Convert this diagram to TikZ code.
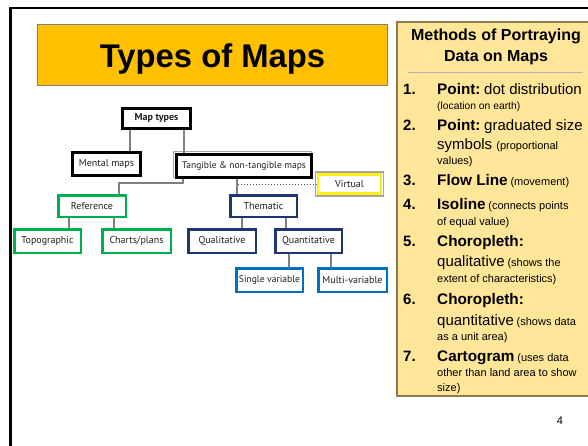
\documentclass[tikz,border=0pt]{standalone}
\usepackage{fontspec}
\setmainfont{Liberation Sans}
\newfontfamily\diagfont{PT Sans}
\usetikzlibrary{backgrounds}
\definecolor{titlegold}{HTML}{FFC000}
\definecolor{panelfill}{HTML}{FFE699}
\definecolor{panelline}{HTML}{8C7A4A}
\definecolor{refgreen}{HTML}{00B050}
\definecolor{themnavy}{HTML}{1F3472}
\definecolor{quantblue}{HTML}{0070C0}
\definecolor{linkgray}{HTML}{808080}
\newcommand\itmB[1]{{\fontsize{15.3}{18}\selectfont\bfseries #1}}
\newcommand\itmR[1]{{\fontsize{15}{18}\selectfont #1}}
\newcommand\itmS[1]{{\fontsize{11}{13}\selectfont #1}}
\begin{document}
\begin{tikzpicture}[x=1pt,y=-1pt,
  box/.style={draw, rectangle, inner sep=0pt, line width=2.5pt, fill=white,
    font=\diagfont\fontsize{10}{12}\selectfont, text=black!88},
  blackbox/.style={box, draw=black, line width=3pt},
  greenbox/.style={box, draw=refgreen},
  navybox/.style={box, draw=themnavy},
  bluebox/.style={box, draw=quantblue},
  yellowbox/.style={box, draw=yellow},
  link/.style={draw=linkgray, line width=2pt},
  txt/.style={anchor=base west, inner sep=0pt},
  num/.style={anchor=base west, inner sep=0pt, font=\fontsize{15}{18}\selectfont\bfseries}]
\useasboundingbox (0,0) rectangle (588,445);
\clip (0,0) rectangle (588,445);
% slide frame
\draw[black, line width=2.6pt] (10.3,450) -- (10.3,8) -- (600,8);
% title
\node (titlebox) [draw=gray, line width=0.8pt, fill=titlegold, inner sep=0pt,
  minimum width=350, minimum height=61] at (212.5,55) {};
\node (titletext) [anchor=base, inner sep=0pt] at (212.5,67)
  {\fontsize{32.8}{36}\selectfont\bfseries Types of Maps};
% right panel
\draw[draw=panelline, fill=panelfill, line width=1.2pt] (397,22) rectangle (600,396);
\node (hd1) [anchor=base, inner sep=0pt] at (496,40.5)
  {\fontsize{16}{19}\selectfont\bfseries Methods of Portraying};
\node (hd2) [anchor=base, inner sep=0pt] at (496,61)
  {\fontsize{16}{19}\selectfont\bfseries Data on Maps};
\draw[gray!60, line width=0.7pt] (408,72) -- (583,72);
\node (n1) [num] at (403,94) {1.};
\node (t1a) [txt] at (437,94) {\itmB{Point:} \itmR{dot distribution}};
\node (t1b) [txt] at (437,109) {{\fontsize{10.3}{12}\selectfont (location on earth)}};
\node (n2) [num] at (403,130.5) {2.};
\node (t2a) [txt] at (437,130.5) {\itmB{Point:} \itmR{graduated size}};
\node (t2b) [txt] at (437,149) {\itmR{symbols\ }\itmS{(proportional}};
\node (t2c) [txt] at (437,164) {\itmS{values)}};
\node (n3) [num] at (403,185.5) {3.};
\node (t3a) [txt] at (437,185.5) {\itmB{Flow Line} \itmS{(movement)}};
\node (n4) [num] at (403,209) {4.};
\node (t4a) [txt] at (437,209) {\itmB{Isoline} \itmS{(connects points}};
\node (t4b) [txt] at (437,225) {\itmS{of equal value)}};
\node (n5) [num] at (403,246.5) {5.};
\node (t5a) [txt] at (437,246.5) {\itmB{Choropleth:}};
\node (t5b) [txt] at (437,266.5) {\itmR{qualitative} \itmS{(shows the}};
\node (t5c) [txt] at (437,282) {\itmS{extent of characteristics)}};
\node (n6) [num] at (403,304) {6.};
\node (t6a) [txt] at (437,304) {\itmB{Choropleth:}};
\node (t6b) [txt] at (437,325) {\itmR{quantitative} \itmS{(shows data}};
\node (t6c) [txt] at (437,340.5) {\itmS{as a unit area)}};
\node (n7) [num] at (403,361.5) {7.};
\node (t7a) [txt] at (437,361.5) {\itmB{Cartogram} \itmS{(uses data}};
\node (t7b) [txt] at (437,376.5) {\itmS{other than land area to show}};
\node (t7c) [txt] at (437,391) {\itmS{size)}};
\node (pagenum) [anchor=base, inner sep=0pt] at (560,424) {\fontsize{11}{13}\selectfont 4};
% tree nodes
\node (maptypes) [blackbox, minimum width=68, minimum height=20] at (156.5,118.5) {\bfseries Map types};
\node (mental) [blackbox, minimum width=68, minimum height=23] at (106.5,164) {Mental maps};
\node (tangible) [blackbox, minimum width=135, minimum height=23, font=\diagfont\fontsize{9.5}{12}\selectfont] at (244,166) {Tangible \& non-tangible maps};
\node (virtual) [yellowbox, minimum width=63, minimum height=19] at (349.5,184) {Virtual};
\node (reference) [greenbox, minimum width=67.5, minimum height=21.5] at (92,206) {Reference};
\node (thematic) [navybox, minimum width=66.5, minimum height=21.5] at (263.5,206) {Thematic};
\node (topo) [greenbox, minimum width=66.5, minimum height=23.5] at (47.5,241) {Topographic};
\node (charts) [greenbox, minimum width=68.5, minimum height=23.5] at (136.5,241) {Charts/plans};
\node (quali) [navybox, minimum width=67.5, minimum height=23.5] at (222,241) {Qualitative};
\node (quanti) [navybox, minimum width=66.5, minimum height=23.5] at (308.5,241) {Quantitative};
\node (single) [bluebox, minimum width=66.5, minimum height=23.5, font=\diagfont\fontsize{9.6}{12}\selectfont] at (269.5,280) {Single variable};
\node (multi) [bluebox, minimum width=68.5, minimum height=23.5] at (352.5,280) {Multi-variable};
\begin{scope}[on background layer]
  \draw[gray!70, line width=1.3pt] ([shift={(-1.6,-1.6)}]tangible.north west) rectangle ([shift={(-1.6,-1.6)}]tangible.south east);
  \draw[gray!70, line width=1.4pt] ([shift={(-1.1,-1.1)}]virtual.north west) rectangle ([shift={(1.1,1.1)}]virtual.south east);
\end{scope}
% connector x positions
\coordinate (xa) at (130,0);
\coordinate (xb) at (184,0);
\coordinate (e1) at (183,183);
\coordinate (xr) at (119,0);
\coordinate (xt) at (237,0);
\coordinate (xc) at (69,0);
\coordinate (xd) at (114,0);
\coordinate (xe) at (242,0);
\coordinate (xf) at (286,0);
\coordinate (xg) at (289,0);
\coordinate (xh) at (331,0);
\coordinate (d1) at (238,184);
\begin{scope}[on background layer]
\draw[link] (xa |- maptypes.south) -- (xa |- mental.north);
\draw[link] (xb |- maptypes.south) -- (xb |- tangible.north);
\draw[link] (e1 |- tangible.south) -- (e1) -| (xr |- reference.north);
\draw[link] (xt |- tangible.south) -- (xt |- thematic.north);
\draw[link] (xc |- reference.south) -- (xc |- topo.north);
\draw[link] (xd |- reference.south) -- (xd |- charts.north);
\draw[link] (xe |- thematic.south) -- (xe |- quali.north);
\draw[link] (xf |- thematic.south) -- (xf |- quanti.north);
\draw[link] (xg |- quanti.south) -- (xg |- single.north);
\draw[link] (xh |- quanti.south) -- (xh |- multi.north);
\draw[black!70, line width=1pt, dotted] (d1) -- (d1 -| virtual.west);
\end{scope}
\end{tikzpicture}
\end{document}
